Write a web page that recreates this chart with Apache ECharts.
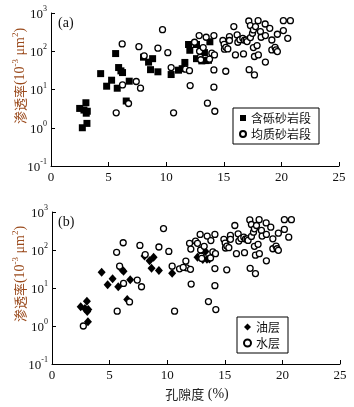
<!DOCTYPE html>
<html>
<head>
<meta charset="utf-8">
<script src="https://cdn.jsdelivr.net/npm/echarts@6/dist/echarts.min.js"></script>
<style>
  html, body { margin: 0; padding: 0; background: #fff; }
  #chart { width: 354px; height: 407px; }
</style>
</head>
<body>
<div id="chart"></div>
<script>
// [porosity %, permeability 10^-3 μm2]
// gravel sandstone samples that are oil layers (filled in both panels)
const oilLayer = [
  [2.49, 3.2], [2.86, 2.9], [3.03, 4.5], [3.06, 2.4], [3.12, 1.3], [3.15, 2.7],
  [4.31, 26], [4.83, 12.2], [5.26, 17.5], [5.75, 10.8], [6.07, 30.7], [6.21, 27.7],
  [6.53, 5.0], [6.79, 16.5], [8.03, 70], [8.47, 52], [8.82, 64], [8.64, 33],
  [9.28, 29], [10.43, 24.6], [12.63, 64], [13.09, 56], [13.32, 92], [13.45, 57], [13.67, 58]
]
// gravel sandstone samples that are water layers
const gravelWater = [
  [2.72, 1.0], [5.61, 87], [5.87, 37.5], [11.07, 32], [11.39, 35], [11.62, 51],
  [11.94, 150], [12.05, 106], [12.63, 150], [13.79, 177]
]
// uniform sandstone samples (all water layers)
const uniformSand = [
  [5.66, 2.46], [6.18, 155], [6.21, 13.2], [6.73, 4.3], [7.40, 16.2], [7.63, 132],
  [7.77, 10.8], [8.09, 76], [9.28, 120], [9.68, 367], [10.14, 92], [10.43, 37.5],
  [10.64, 2.46], [11.68, 34], [12.02, 31], [12.08, 12.7], [12.46, 172], [12.86, 257],
  [12.95, 69], [12.9, 100], [13.0, 60], [13.21, 125], [13.47, 232], [13.58, 4.4],
  [13.76, 62], [13.96, 89], [14.14, 257], [14.19, 80], [14.14, 32.5], [14.14, 11.5],
  [14.22, 2.7], [14.92, 191], [15.03, 152], [15.06, 113], [15.18, 127], [15.35, 115],
  [15.17, 30], [15.49, 242], [15.49, 191], [15.87, 441], [16.01, 80], [16.16, 267],
  [16.22, 172], [16.4, 200], [16.65, 218], [16.71, 85], [16.8, 195], [16.94, 197],
  [17.02, 179], [17.17, 618], [17.2, 33], [17.31, 469], [17.31, 228], [17.49, 295],
  [17.57, 360], [17.57, 125], [17.66, 73], [17.66, 24], [17.75, 441], [17.89, 141],
  [17.98, 630], [18.0, 80], [18.18, 327], [18.24, 232], [18.59, 516], [18.61, 257],
  [18.61, 52], [18.99, 398], [19.17, 197], [19.17, 108], [19.45, 127], [19.54, 108],
  [19.65, 98], [19.65, 278], [20.17, 630], [20.17, 347], [20.55, 218], [20.78, 630]
]
const gravelSand = oilLayer.concat(gravelWater)
const waterLayer = uniformSand.concat(gravelWater)

const xTicks = [0, 25, 5]          // min, max, step
const yRange = [0.1, 1000]

const serif = '"Liberation Serif", "Times New Roman", serif'
const cjk = '"Noto Sans CJK SC", sans-serif'
const titleColor = '#9a4a1c'

const chart = echarts.init(document.getElementById('chart'))

function xAxisOf(gridIndex) {
  return {
    gridIndex,
    type: 'value',
    min: xTicks[0],
    max: xTicks[1],
    interval: xTicks[2],
    axisLine: { lineStyle: { color: '#000', width: 1 } },
    axisTick: { inside: true, length: 4, lineStyle: { color: '#000' } },
    axisLabel: { color: '#111', fontFamily: serif, fontSize: 13, margin: 5 },
    splitLine: { show: false }
  }
}

function yAxisOf(gridIndex) {
  return {
    gridIndex,
    type: 'log',
    logBase: 10,
    min: yRange[0],
    max: yRange[1],
    axisLine: { show: true, lineStyle: { color: '#000', width: 1 } },
    axisTick: { inside: true, length: 4, lineStyle: { color: '#000' } },
    axisLabel: {
      margin: 4,
      formatter: v => '{b|10}{s|' + Math.round(Math.log10(v)) + '}',
      rich: {
        b: { fontFamily: serif, fontSize: 13, color: '#111', verticalAlign: 'bottom', lineHeight: 16 },
        s: { fontFamily: serif, fontSize: 8, color: '#111', verticalAlign: 'top', lineHeight: 16 }
      }
    },
    splitLine: { show: false },
    minorTick: { show: false }
  }
}

function yTitle(cy) {
  return {
    type: 'text',
    x: 19,
    y: cy,
    rotation: Math.PI / 2,
    style: {
      text: '{c|渗透率}{t|(10}{s|-3}{t| μm}{s|2}{t|)}',
      align: 'center',
      verticalAlign: 'middle',
      fill: titleColor,
      rich: {
        c: { font: '13px ' + cjk, fill: titleColor, verticalAlign: 'bottom', lineHeight: 16 },
        t: { font: '14px ' + serif, fill: titleColor, verticalAlign: 'bottom', lineHeight: 16 },
        s: { font: '9px ' + serif, fill: titleColor, verticalAlign: 'top', lineHeight: 16 }
      }
    }
  }
}

const squareStyle = { color: '#000', opacity: 1 }
const circleStyle = { color: '#fff', borderColor: '#000', borderWidth: 1.3, opacity: 1 }

chart.setOption({
  animation: false,
  backgroundColor: '#ffffff',
  grid: [
    { left: 51, right: 15, top: 13, height: 153 },
    { left: 52, right: 14, top: 212, height: 152 }
  ],
  xAxis: [xAxisOf(0), xAxisOf(1)],
  yAxis: [yAxisOf(0), yAxisOf(1)],
  legend: [
    {
      data: ['含砾砂岩段', '均质砂岩段'],
      orient: 'vertical',
      left: 233,
      top: 108,
      borderColor: '#000',
      borderWidth: 1,
      borderRadius: 0,
      padding: [4, 8, 4, 6],
      itemGap: 4,
      itemWidth: 6,
      itemHeight: 6,
      textStyle: { fontFamily: cjk, fontSize: 12, color: '#111' }
    },
    {
      data: ['油层', '水层'],
      orient: 'vertical',
      left: 237,
      top: 317,
      borderColor: '#000',
      borderWidth: 1,
      borderRadius: 0,
      padding: [4, 8, 4, 6],
      itemGap: 4,
      itemWidth: 7,
      itemHeight: 7,
      textStyle: { fontFamily: cjk, fontSize: 12, color: '#111' }
    }
  ],
  graphic: [
    yTitle(76),
    yTitle(274),
    { type: 'text', x: 58, y: 23, style: { text: '(a)', font: '14px ' + serif, fill: '#111', align: 'left', verticalAlign: 'middle' } },
    { type: 'text', x: 58, y: 222, style: { text: '(b)', font: '14px ' + serif, fill: '#111', align: 'left', verticalAlign: 'middle' } },
    {
      type: 'text',
      x: 197,
      y: 394,
      style: {
        text: '{c|孔隙度}{t| (%)}',
        align: 'center',
        verticalAlign: 'middle',
        rich: {
          c: { font: '13px ' + cjk, fill: '#222' },
          t: { font: '14px ' + serif, fill: '#222' }
        }
      }
    }
  ],
  series: [
    {
      name: '含砾砂岩段',
      type: 'scatter',
      xAxisIndex: 0,
      yAxisIndex: 0,
      symbol: 'rect',
      symbolSize: 7,
      itemStyle: squareStyle,
      data: gravelSand
    },
    {
      name: '均质砂岩段',
      type: 'scatter',
      xAxisIndex: 0,
      yAxisIndex: 0,
      symbol: 'circle',
      symbolSize: 6,
      itemStyle: circleStyle,
      data: uniformSand
    },
    {
      name: '油层',
      type: 'scatter',
      xAxisIndex: 1,
      yAxisIndex: 1,
      symbol: 'diamond',
      symbolSize: [8, 9],
      itemStyle: squareStyle,
      data: oilLayer
    },
    {
      name: '水层',
      type: 'scatter',
      xAxisIndex: 1,
      yAxisIndex: 1,
      symbol: 'circle',
      symbolSize: 6,
      itemStyle: circleStyle,
      data: waterLayer
    }
  ]
})
</script>
</body>
</html>
